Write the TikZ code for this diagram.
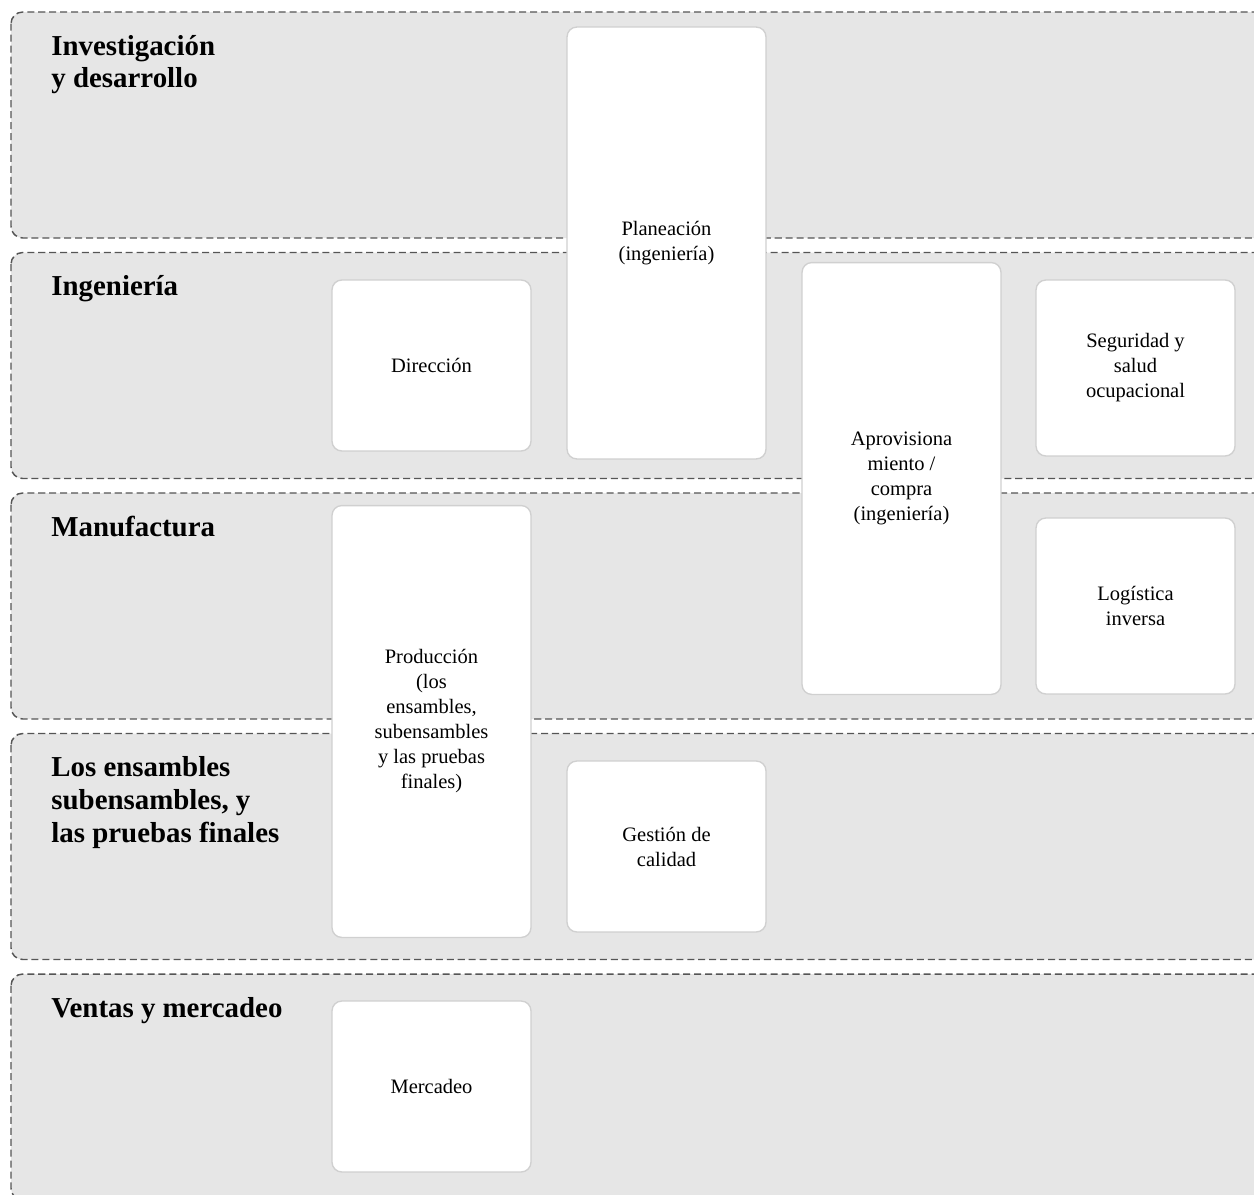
\documentclass[tikz,border=0pt]{standalone}
\usepackage{fontspec}
\setmainfont{Liberation Serif}
\usetikzlibrary{positioning}
\definecolor{lanefill}{RGB}{230,230,230}
\definecolor{lanedraw}{RGB}{85,85,85}
\definecolor{unitdraw}{RGB}{208,208,208}

\begin{document}
\begin{tikzpicture}[x=.018cm,y=-.018cm,
    lane/.style={draw=lanedraw,fill=lanefill,dash pattern=on 3.6pt off 2pt,line width=.75pt,rounded corners=6pt},
    lanetitle/.style={anchor=base west,inner sep=0pt,font=\fontsize{14.8}{16.9}\selectfont\bfseries},
    unit/.style={draw=unitdraw,fill=white,rounded corners=5pt,line width=.7pt,align=center,inner sep=0pt,
      font=\fontsize{10.5}{12.8}\selectfont,minimum width=3.582cm},
    unitlong/.style={unit,minimum height=7.776cm},
    unitshort/.style={unit,minimum height=3.078cm}]
  \useasboundingbox (0,0) rectangle (1254,1194);
  \clip (0,0) rectangle (1254,1194);
  % swimlanes
  \foreach \i/\txt in {0/{Investigación\\y desarrollo},1/Ingeniería,2/Manufactura,3/{Los ensambles\\subensambles, y\\las pruebas finales},4/Ventas y mercadeo}{
    \draw[lane] (11,12+240.5*\i) rectangle (1275,238+240.5*\i);
    \node[lanetitle] (lane\i) at (51,55+240.5*\i) {\begin{tabular}[t]{@{}l@{}}\txt\end{tabular}};
  }
  % units
  \node[unitlong] (planeacion) at (666.5,243) {Planeación\\(ingeniería)};
  \node[unitshort] (direccion) at (431.5,365.5) {Dirección};
  \node[unitlong] (aprovisionamiento) at (901.5,478.5) {Aprovisiona\\miento /\\compra\\(ingeniería)};
  \node[unit,minimum height=3.168cm] (seguridad) at (1135.5,368) {Seguridad y\\salud\\ocupacional};
  \node[unit,minimum height=3.168cm] (logistica) at (1135.5,606) {Logística\\inversa};
  \node[unitlong] (produccion) at (431.5,721.5) {Producción\\(los\\ensambles,\\subensambles\\y las pruebas\\finales)};
  \node[unitshort] (calidad) at (666.5,846.5) {Gestión de\\calidad};
  \node[unitshort] (mercadeo) at (431.5,1086.5) {Mercadeo};
\end{tikzpicture}
\end{document}
